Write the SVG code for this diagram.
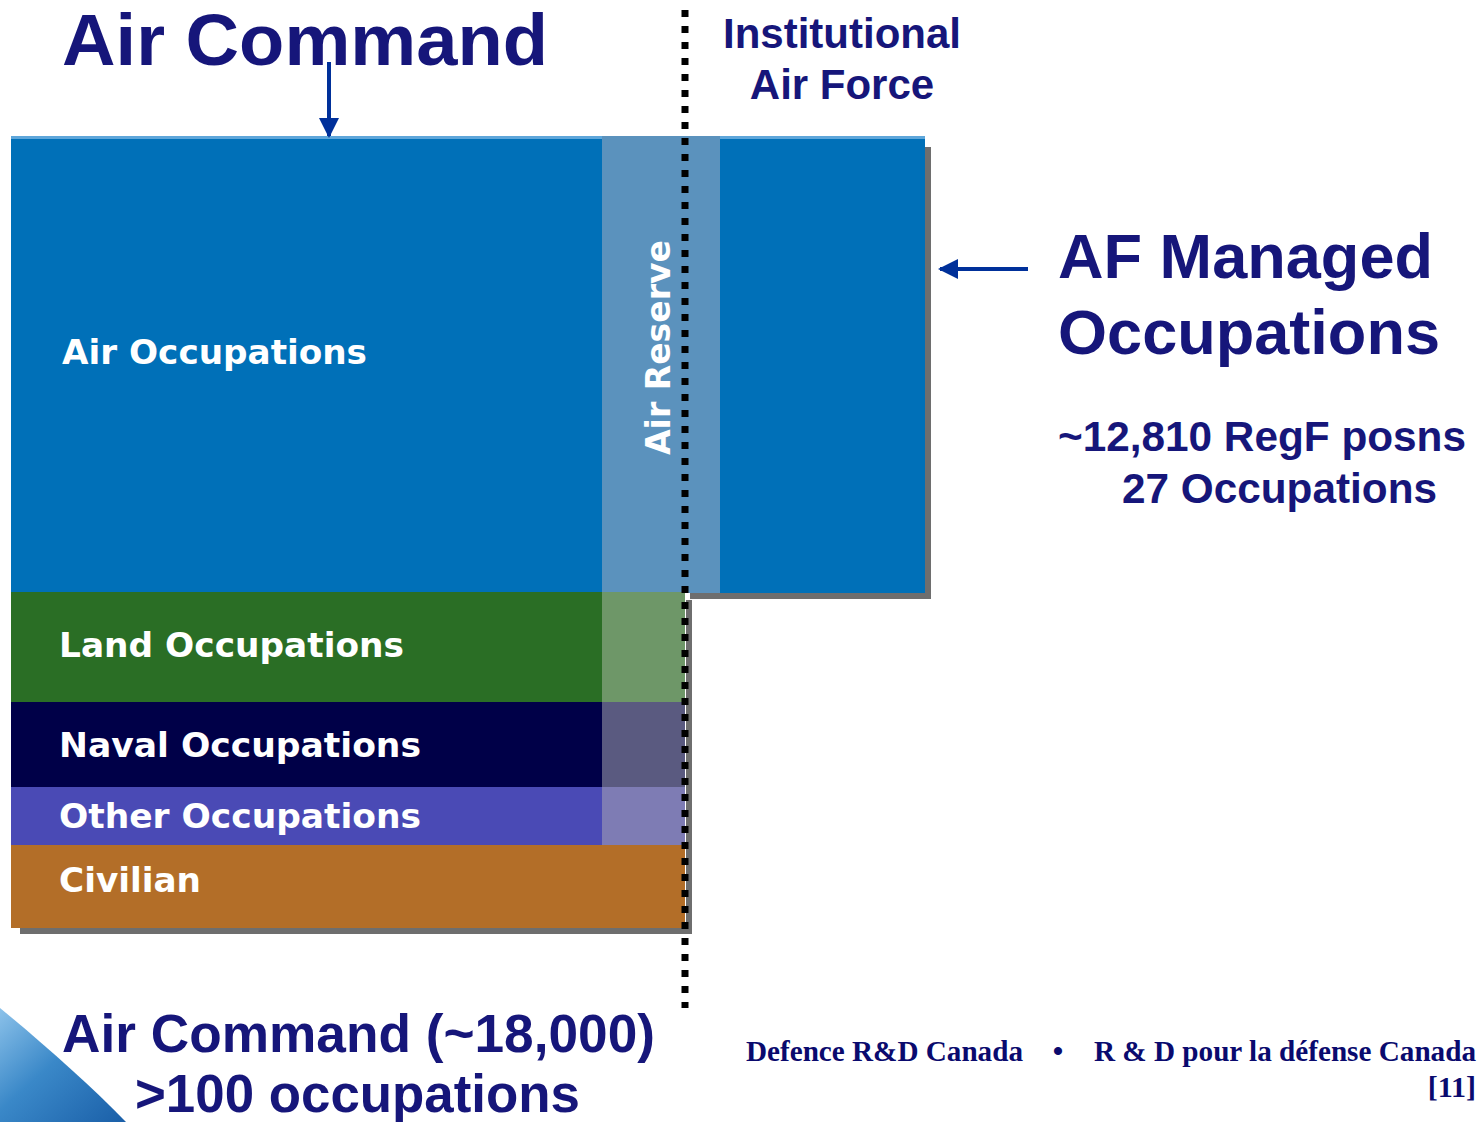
<svg xmlns="http://www.w3.org/2000/svg" width="1484" height="1122" viewBox="0 0 1484 1122">
<style>
.title{font-family:"Liberation Sans",Arial,sans-serif;font-weight:bold;fill:#16167A}
.band{font-family:"DejaVu Sans",Verdana,sans-serif;font-weight:bold;fill:#FFFFFF;font-size:33px}
.foot{font-family:"Liberation Serif","Times New Roman",serif;font-weight:bold;fill:#0A0A6E;font-size:30px}
.shadow{fill:#6E6E6E}
.conn{stroke:#00309A;stroke-width:4;fill:none}
</style>
<defs>
<marker id="ah" viewBox="0 0 10 10" refX="9" refY="5" markerWidth="5" markerHeight="5" markerUnits="strokeWidth" orient="auto">
<path d="M0,0 L10,5 L0,10 Z" fill="#00309A"/>
</marker>
<linearGradient id="swoosh" x1="0" y1="0" x2="1" y2="1">
<stop offset="0" stop-color="#8CC2EA"/>
<stop offset="0.45" stop-color="#3A88C8"/>
<stop offset="1" stop-color="#1A5FA8"/>
</linearGradient>
</defs>
<rect width="1484" height="1122" fill="#FFFFFF"/>

<path d="M0,1008 C45,1045 90,1085 126,1122 L0,1122 Z" fill="url(#swoosh)"/>

<g id="shadows">
<rect class="shadow" x="925" y="147" width="6" height="452"/>
<rect class="shadow" x="690" y="593" width="241" height="6"/>
<rect class="shadow" x="686" y="600" width="6" height="333"/>
<rect class="shadow" x="20" y="928" width="672" height="6"/>
</g>

<g id="air-occupations">
<rect x="11" y="136" width="914" height="457" fill="#0070B8"/>
<rect x="11" y="136" width="914" height="3" fill="#5EA6DA"/>
<text class="band" x="62" y="364" textLength="305" lengthAdjust="spacingAndGlyphs">Air Occupations</text>
</g>
<g id="air-reserve">
<rect x="602" y="136" width="118" height="457" fill="#5B92BD"/>
<text class="band" transform="translate(670,455) rotate(-90)" textLength="215" lengthAdjust="spacingAndGlyphs">Air Reserve</text>
</g>
<g id="land-occupations">
<rect x="11" y="592" width="591" height="110" fill="#2A6E25"/>
<rect x="602" y="592" width="83" height="110" fill="#6E9768"/>
<text class="band" x="59" y="657" textLength="345" lengthAdjust="spacingAndGlyphs">Land Occupations</text>
</g>
<g id="naval-occupations">
<rect x="11" y="702" width="591" height="85" fill="#000048"/>
<rect x="602" y="702" width="83" height="85" fill="#5A5A80"/>
<text class="band" x="59" y="757" textLength="362" lengthAdjust="spacingAndGlyphs">Naval Occupations</text>
</g>
<g id="other-occupations">
<rect x="11" y="787" width="591" height="58" fill="#4A4AB5"/>
<rect x="602" y="787" width="83" height="58" fill="#7E7CB4"/>
<text class="band" x="59" y="828" textLength="362" lengthAdjust="spacingAndGlyphs">Other Occupations</text>
</g>
<g id="civilian">
<rect x="11" y="845" width="674" height="83" fill="#B36E28"/>
<text class="band" x="59" y="892" textLength="142" lengthAdjust="spacingAndGlyphs">Civilian</text>
</g>

<line id="divider" x1="685" y1="10" x2="685" y2="1008" stroke="#000000" stroke-width="7" stroke-dasharray="7 9"/>

<g id="connectors">
<line class="conn" x1="329" y1="62" x2="329" y2="136" marker-end="url(#ah)"/>
<line class="conn" x1="1028" y1="269" x2="940" y2="269" marker-end="url(#ah)"/>
</g>

<g id="air-command-title">
<text class="title" x="62" y="65" font-size="72" textLength="486" lengthAdjust="spacingAndGlyphs">Air Command</text>
</g>
<g id="institutional">
<text class="title" x="842" y="48" font-size="42" text-anchor="middle">Institutional</text>
<text class="title" x="842" y="99" font-size="42" text-anchor="middle">Air Force</text>
</g>
<g id="af-managed">
<text class="title" x="1058" y="278" font-size="63" textLength="375" lengthAdjust="spacingAndGlyphs">AF Managed</text>
<text class="title" x="1058" y="354" font-size="63" textLength="382" lengthAdjust="spacingAndGlyphs">Occupations</text>
<text class="title" x="1058" y="451" font-size="42" textLength="408" lengthAdjust="spacingAndGlyphs">~12,810 RegF posns</text>
<text class="title" x="1122" y="503" font-size="42" textLength="315" lengthAdjust="spacingAndGlyphs">27 Occupations</text>
</g>
<g id="air-command-summary">
<text class="title" x="62" y="1052" font-size="53" textLength="593" lengthAdjust="spacingAndGlyphs">Air Command (~18,000)</text>
<text class="title" x="135" y="1112" font-size="53" textLength="445" lengthAdjust="spacingAndGlyphs">&gt;100 occupations</text>
</g>
<g id="footer">
<text class="foot" x="746" y="1061" textLength="277" lengthAdjust="spacingAndGlyphs">Defence R&amp;D Canada</text>
<text class="foot" x="1058" y="1061" text-anchor="middle">•</text>
<text class="foot" x="1094" y="1061" textLength="382" lengthAdjust="spacingAndGlyphs">R &amp; D pour la défense Canada</text>
<text class="foot" x="1476" y="1097" text-anchor="end">[11]</text>
</g>
</svg>
